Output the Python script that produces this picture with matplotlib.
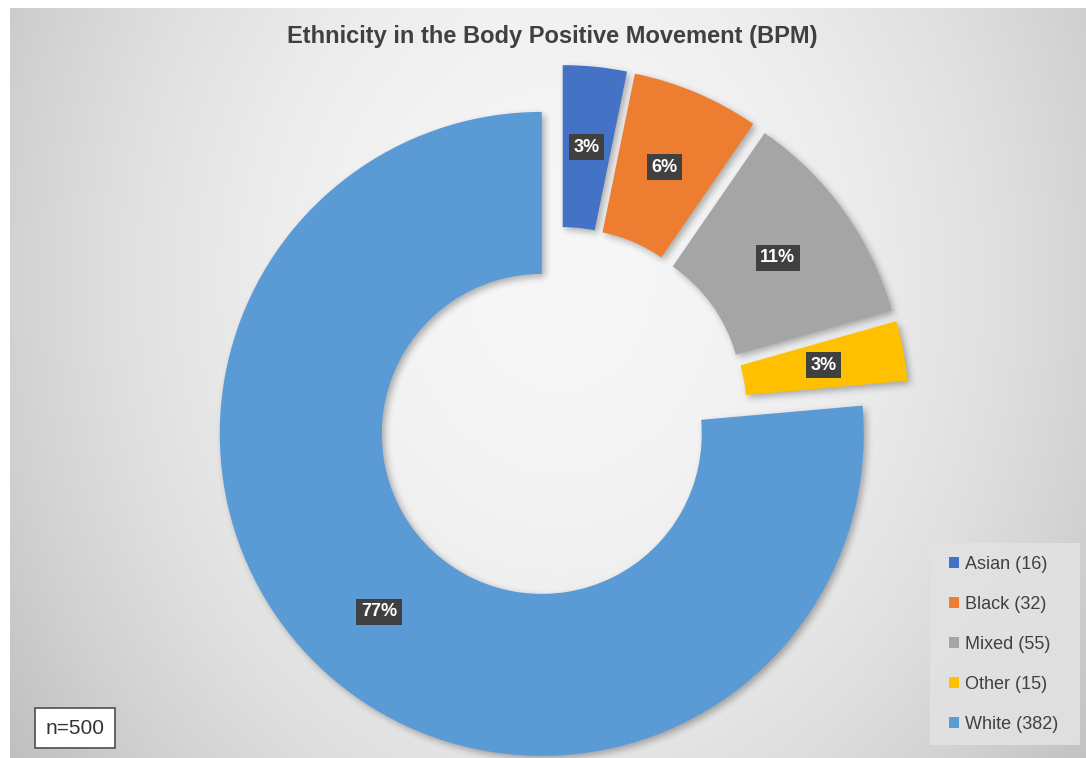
import numpy as np
import matplotlib
matplotlib.use("Agg")
import matplotlib.pyplot as plt
from matplotlib.patches import Rectangle, Patch

plt.rcParams["font.family"] = ["Liberation Sans", "DejaVu Sans"]

# ---- data ----
categories = ["Asian", "Black", "Mixed", "Other", "White"]
counts = [16, 32, 55, 15, 382]
colors = ["#4472C4", "#ED7D31", "#A5A5A5", "#FFC000", "#5B9BD5"]
title = "Ethnicity in the Body Positive Movement (BPM)"
sample_note = "n=500"

W, H = 1086, 758


def rounded_percents(values):
    """Whole-number percentages that add up to 100 (largest remainder)."""
    vals = np.asarray(values, dtype=float)
    shares = vals / vals.sum() * 100
    floors = np.floor(shares).astype(int)
    rest = 100 - floors.sum()
    order = sorted(range(len(vals)), key=lambda i: (shares[i] - floors[i], vals[i]), reverse=True)
    for i in order[:rest]:
        floors[i] += 1
    return [f"{p}%" for p in floors]


def _kernel(sigma):
    r = int(3 * sigma)
    x = np.arange(-r, r + 1)
    k = np.exp(-x ** 2 / (2 * sigma ** 2))
    return k / k.sum()


def _blur(a, sigma):
    k = _kernel(sigma)
    a = np.apply_along_axis(lambda m: np.convolve(m, k, mode="same"), 0, a)
    a = np.apply_along_axis(lambda m: np.convolve(m, k, mode="same"), 1, a)
    return a


def soft_shadow(im, dpi, pad=16, dx=3, dy=3, sigma=3.5, strength=0.30):
    ny, nx, _ = im.shape
    alpha = np.zeros((ny + 2 * pad, nx + 2 * pad))
    alpha[pad:pad + ny, pad:pad + nx] = im[:, :, 3]
    alpha = np.roll(alpha, dx, axis=1)
    alpha = np.roll(alpha, dy, axis=0)
    alpha = _blur(alpha, sigma)
    out = np.zeros((ny + 2 * pad, nx + 2 * pad, 4))
    out[..., 3] = np.clip(alpha * strength, 0, 1)
    return out, -pad, -pad


fig = plt.figure(figsize=(W / 100, H / 100), dpi=100)
fig.patch.set_facecolor("white")
ax = fig.add_axes([0, 0, 1, 1])

# ---- soft radial background of the chart area ----
x0, x1, y0, y1 = 10, W, 0, H - 8
gx = np.linspace(x0, x1, 400)
gy = np.linspace(y1, y0, 300)
GX, GY = np.meshgrid(gx, gy)
cx, cy = 560, H - 280
v = 247 - 37 * ((GX - cx) / 550) ** 2 - 13 * ((GY - cy) / 400) ** 2
v = np.clip(v, 190, 250) / 255.0
bg = np.dstack([v, v, v])
ax.imshow(bg, extent=[x0, x1, y0, y1], origin="upper", zorder=0, interpolation="bilinear")

# ---- doughnut (every slice pulled out from the centre) ----
center = (560, H - 414)
radius = 322
ring = 162
explode = [27] * len(counts)   # pie offsets are in data units (pixels here)

shadow_wedges, _ = ax.pie(counts, explode=explode, center=center, radius=radius,
                          startangle=90, counterclock=False,
                          colors=["black"] * len(counts),
                          wedgeprops=dict(width=ring, linewidth=0))
for w in shadow_wedges:
    w.set_zorder(1)
    w.set_agg_filter(soft_shadow)

pct_labels = rounded_percents(counts)
wedges, _, autotexts = ax.pie(counts, explode=explode, center=center, radius=radius,
                              startangle=90, counterclock=False, colors=colors,
                              autopct="%1.0f%%", pctdistance=(radius - ring / 2) / radius,
                              wedgeprops=dict(width=ring, linewidth=0))
for w in wedges:
    w.set_zorder(2)
for t, lab in zip(autotexts, pct_labels):
    t.set_text(lab)
    t.set_color("white")
    t.set_fontsize(13)
    t.set_fontweight("bold")
    t.set_zorder(5)
    t.set_bbox(dict(boxstyle="square,pad=0.25", fc="#404040", ec="none"))

# ---- title ----
ax.text(552, H - 36, title, ha="center", va="center", fontsize=17,
        fontweight="bold", color="#404040", zorder=6)

# ---- legend ----
ax.add_patch(Rectangle((930, H - 745), 150, 202, fc="#e2e2e2", ec="none",
                       alpha=0.9, zorder=3))
handles = [Patch(fc=c, ec="none") for c in colors]
labels = [f"{c} ({n})" for c, n in zip(categories, counts)]
leg = ax.legend(handles, labels, loc="upper left", bbox_to_anchor=(949, H - 556),
                bbox_transform=ax.transData, frameon=False, fontsize=13,
                labelspacing=1.27, handlelength=0.55, handleheight=0.55,
                handletextpad=0.35, borderpad=0, borderaxespad=0)
leg.set_zorder(6)
for txt in leg.get_texts():
    txt.set_color("#404040")

# ---- sample size note ----
ax.text(75, H - 728, sample_note, ha="center", va="center", fontsize=15,
        color="#333333", zorder=6,
        bbox=dict(boxstyle="square,pad=0.5", fc="white", ec="#595959", lw=1.3))

ax.set_xlim(0, W)
ax.set_ylim(0, H)
ax.set_aspect("equal", adjustable="box")
ax.axis("off")

fig.savefig("out.png", dpi=100, facecolor="white")
